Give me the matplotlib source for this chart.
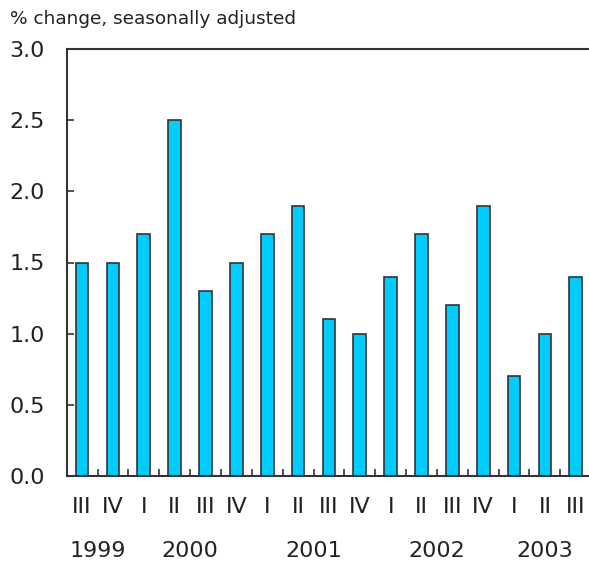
import matplotlib
matplotlib.use("Agg")
import matplotlib.pyplot as plt
import numpy as np
from matplotlib.transforms import blended_transform_factory

quarters = ["III", "IV", "I", "II", "III", "IV", "I", "II", "III", "IV",
            "I", "II", "III", "IV", "I", "II", "III"]
values = [1.5, 1.5, 1.7, 2.5, 1.3, 1.5, 1.7, 1.9, 1.1, 1.0,
          1.4, 1.7, 1.2, 1.9, 0.7, 1.0, 1.4]
years = ["1999", "2000", "2001", "2002", "2003"]
year_bars = [(0, 1), (2, 5), (6, 9), (10, 13), (14, 16)]

plt.rcParams["font.family"] = ["DejaVu Sans"]

fig = plt.figure(figsize=(5.89, 5.65), dpi=100)
ax = fig.add_axes([67 / 589, 89 / 565, 1 - 67 / 589, 427 / 565])

x = np.arange(len(values))
ax.bar(x, values, width=0.41, color="#00CCFF", edgecolor="#333333", linewidth=1.2)

ax.set_xlim(-0.49, 16.43)
ax.set_ylim(0, 3.0)
ax.set_yticks(np.arange(0, 3.01, 0.5))
ax.set_yticklabels([f"{v:.1f}" for v in np.arange(0, 3.01, 0.5)])

ax.set_xticks(x)
ax.set_xticklabels(quarters)
ax.set_xticks(x[:-1] + 0.5, minor=True)

ax.tick_params(axis="x", which="major", length=0, pad=15, labelsize=16, colors="#222222")
ax.tick_params(axis="x", which="minor", direction="in", length=5, width=1.2, color="#333333")
ax.tick_params(axis="y", direction="in", length=5, width=1.2, pad=16, labelsize=16,
               color="#333333", labelcolor="#222222")

for s in ["left", "top", "bottom"]:
    ax.spines[s].set_color("#333333")
    ax.spines[s].set_linewidth(1.5)
ax.spines["right"].set_visible(False)

trans = blended_transform_factory(ax.transData, fig.transFigure)
for yr, (a, b) in zip(years, year_bars):
    ax.text((a + b) / 2, 1 - 551 / 565, yr, transform=trans, ha="center", va="center",
            fontsize=16, color="#222222")

fig.text(10 / 589, 1 - 19 / 565, "% change, seasonally adjusted", ha="left", va="center",
         fontsize=13.3, color="#222222")

fig.savefig("out.png", dpi=100)
